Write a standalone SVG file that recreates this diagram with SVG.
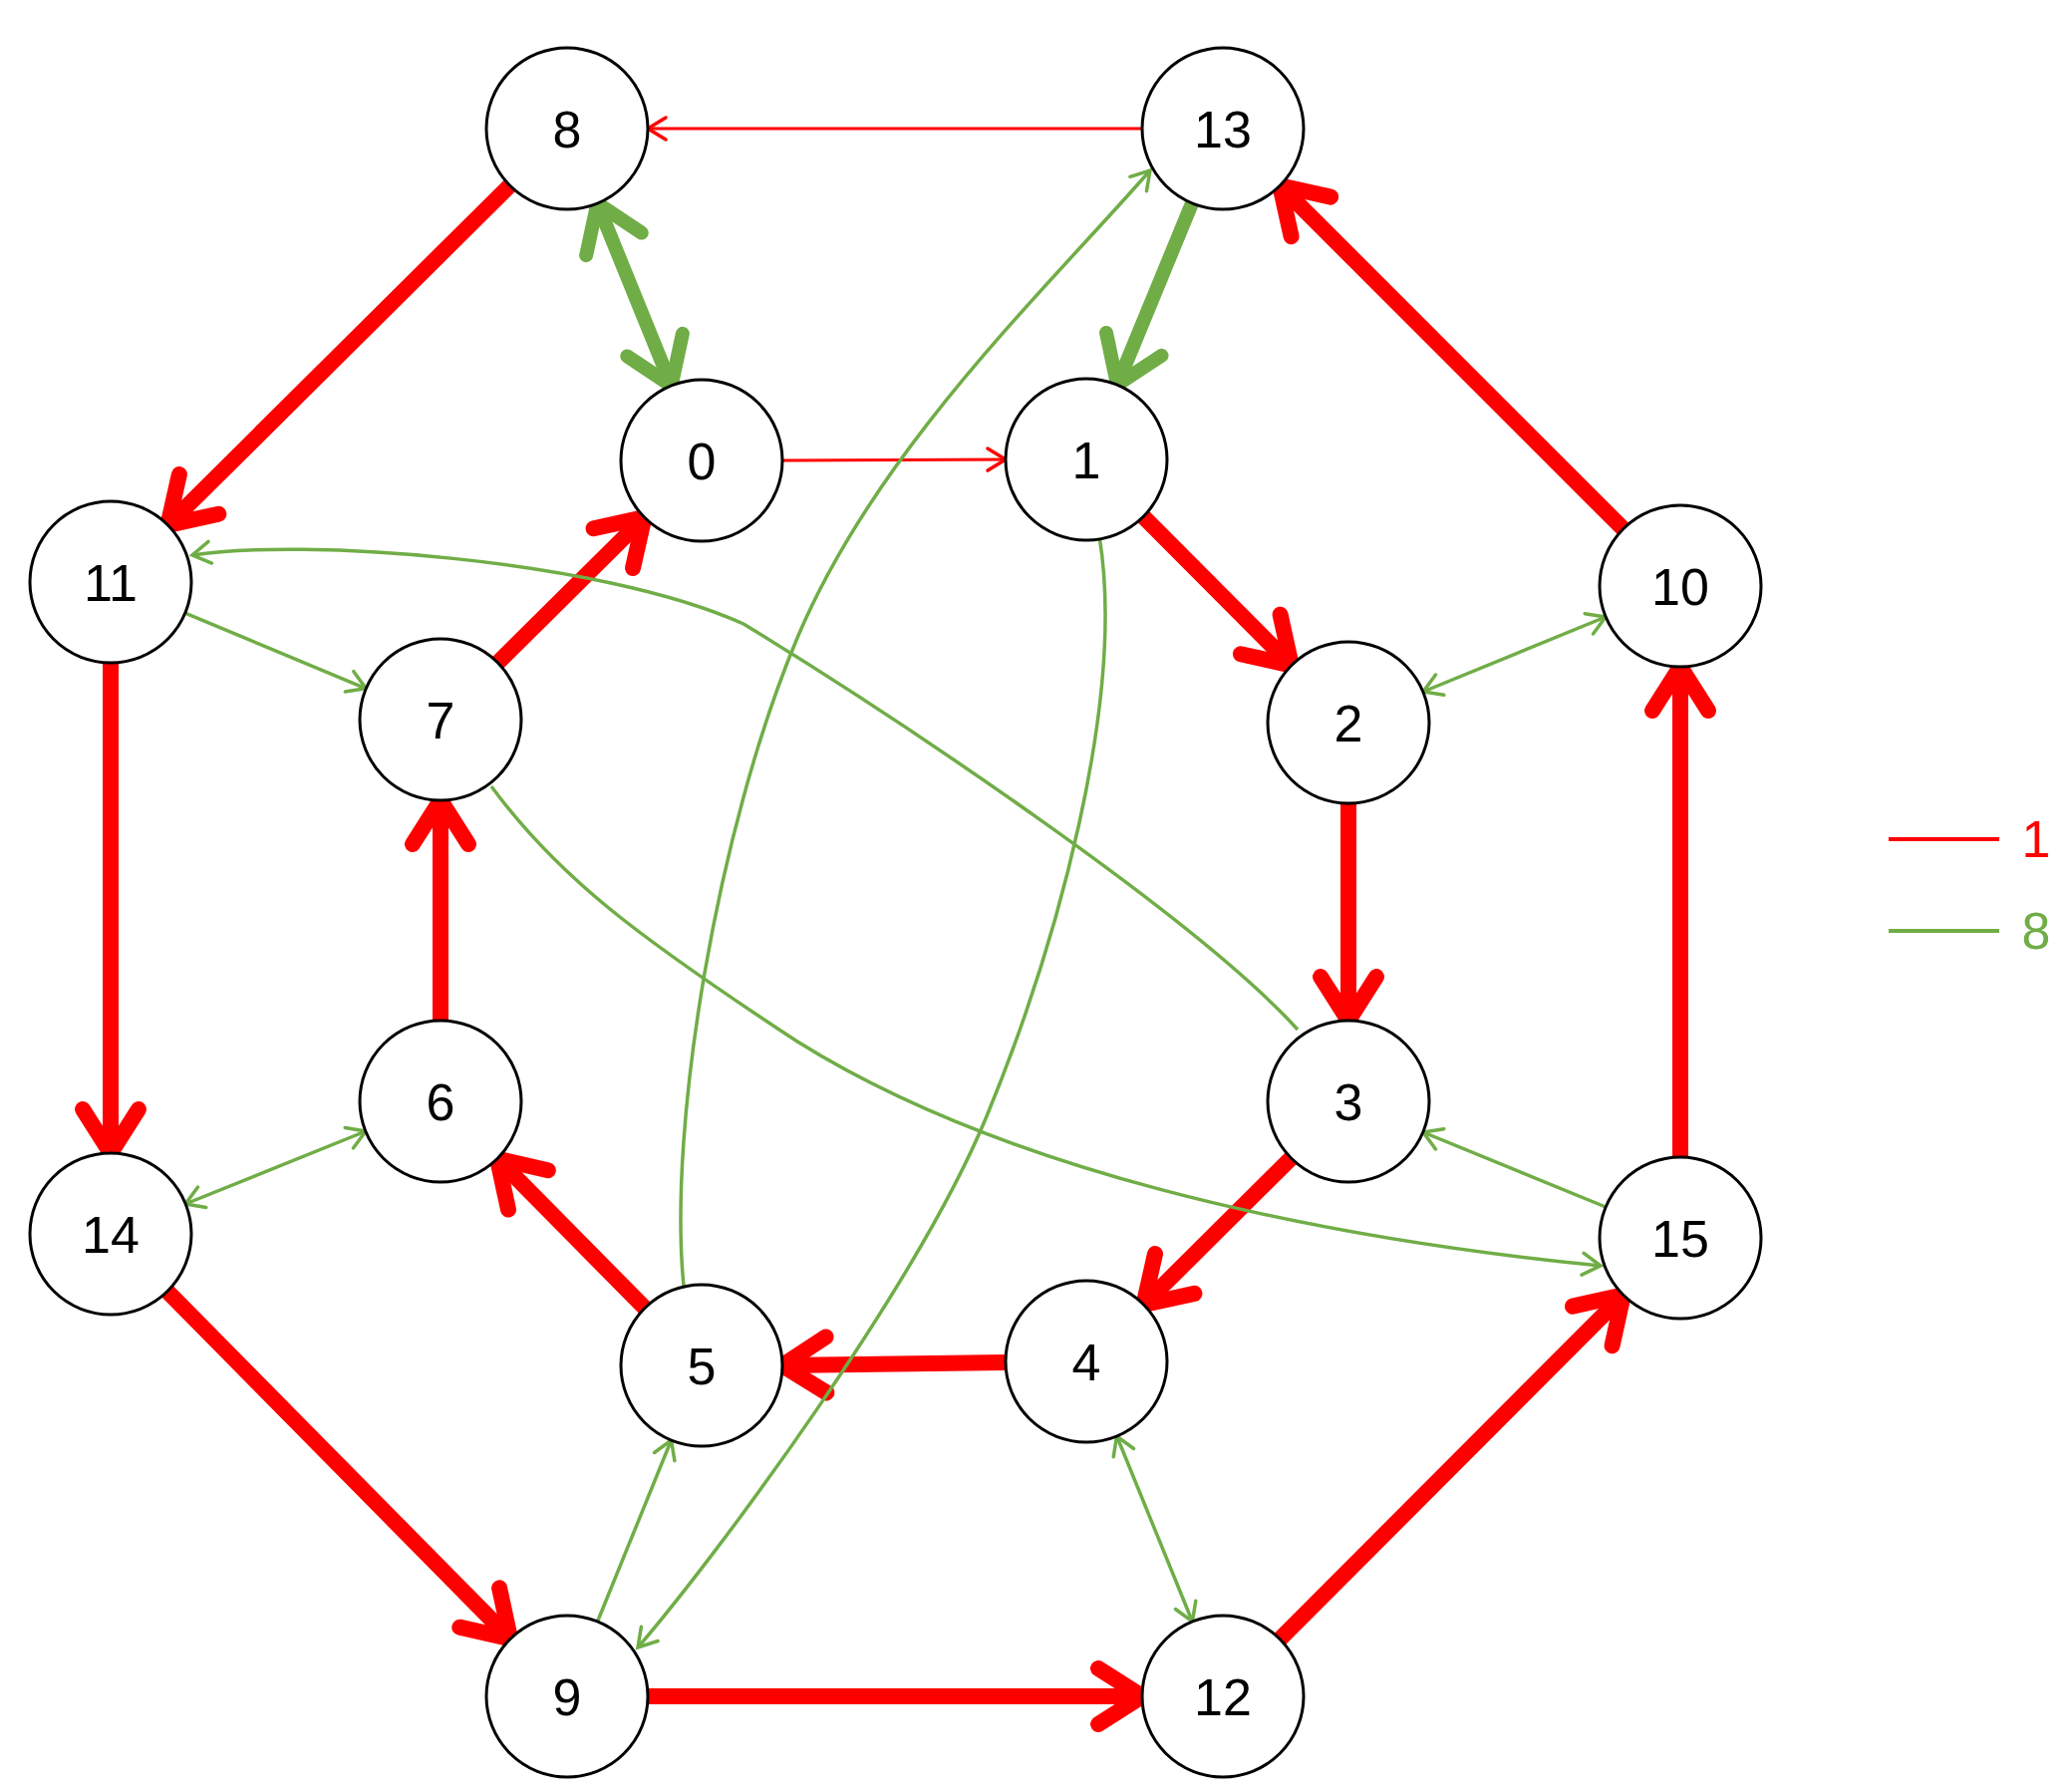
<svg xmlns="http://www.w3.org/2000/svg" width="2079" height="1797" viewBox="0 0 2079 1797">
<style>
.n circle{fill:#fff;stroke:#000;stroke-width:3}
.n text,.lg{font-family:"Liberation Sans",Arial,sans-serif;font-size:52px;text-anchor:middle}
.rt{stroke:#f00;stroke-width:16;fill:none;stroke-linecap:round}
.rn{stroke:#f00;stroke-width:3;fill:none}
.gt{stroke:#70AD47;stroke-width:14;fill:none;stroke-linecap:round}
.gn{stroke:#70AD47;stroke-width:3.5;fill:none}
</style>
<defs>
<marker id="mrt" markerUnits="userSpaceOnUse" orient="auto" overflow="visible" markerWidth="1" markerHeight="1"><path d="M-44,-28 L0,0 L-44,28" fill="none" stroke="#f00" stroke-width="16" stroke-linecap="round" stroke-linejoin="miter"/></marker>
<marker id="mrn" markerUnits="userSpaceOnUse" orient="auto" overflow="visible" markerWidth="1" markerHeight="1"><path d="M-18,-11 L0,0 L-18,11" fill="none" stroke="#f00" stroke-width="3.5" stroke-linecap="round"/></marker>
<marker id="mgt" markerUnits="userSpaceOnUse" orient="auto" overflow="visible" markerWidth="1" markerHeight="1"><path d="M-44,-30 L0,0 L-44,30" fill="none" stroke="#70AD47" stroke-width="14" stroke-linecap="round"/></marker>
<marker id="mgts" markerUnits="userSpaceOnUse" orient="auto-start-reverse" overflow="visible" markerWidth="1" markerHeight="1"><path d="M-44,-30 L0,0 L-44,30" fill="none" stroke="#70AD47" stroke-width="14" stroke-linecap="round"/></marker>
<marker id="mgn" markerUnits="userSpaceOnUse" orient="auto" overflow="visible" markerWidth="1" markerHeight="1"><path d="M-18,-11 L0,0 L-18,11" fill="none" stroke="#70AD47" stroke-width="3.5" stroke-linecap="round"/></marker>
<marker id="mgns" markerUnits="userSpaceOnUse" orient="auto-start-reverse" overflow="visible" markerWidth="1" markerHeight="1"><path d="M-18,-11 L0,0 L-18,11" fill="none" stroke="#70AD47" stroke-width="3.5" stroke-linecap="round"/></marker>
</defs>
<g id="connectors">
<path class="rt" marker-end="url(#mrt)" d="M511.6,186.1 L168.4,526.9"/>
<path class="rt" marker-end="url(#mrt)" d="M111,665 L111,1157"/>
<path class="rt" marker-end="url(#mrt)" d="M167.9,1295.7 L512.1,1644.3"/>
<path class="rt" marker-end="url(#mrt)" d="M650,1702 L1146,1702"/>
<path class="rt" marker-end="url(#mrt)" d="M1284.2,1644.7 L1628.8,1299.3"/>
<path class="rt" marker-end="url(#mrt)" d="M1686,1161 L1686,669"/>
<path class="rt" marker-end="url(#mrt)" d="M1628.7,530.7 L1284.3,186.3"/>
<path class="rt" marker-end="url(#mrt)" d="M1147.2,518.4 L1295.8,667.6"/>
<path class="rt" marker-end="url(#mrt)" d="M1353,806 L1353,1024"/>
<path class="rt" marker-end="url(#mrt)" d="M1295.5,1162 L1147.5,1309"/>
<path class="rt" marker-end="url(#mrt)" d="M1009,1367 L785,1370"/>
<path class="rt" marker-end="url(#mrt)" d="M647,1312.4 L499,1162.6"/>
<path class="rt" marker-end="url(#mrt)" d="M442,1024 L442,803"/>
<path class="rt" marker-end="url(#mrt)" d="M499.5,664.9 L646.5,519.1"/>
<path class="rn" marker-end="url(#mrn)" d="M1146,129 L650,129"/>
<path class="rn" marker-end="url(#mrn)" d="M785,462 L1009,461"/>
<path class="gt" marker-start="url(#mgts)" marker-end="url(#mgt)" d="M599.4,204.1 L673.6,386.9"/>
<path class="gt" marker-end="url(#mgt)" d="M1196,204 L1121,386"/>
<path class="gn" marker-end="url(#mgn)" d="M185.8,615.2 L367.2,690.8"/>
<path class="gn" marker-start="url(#mgns)" marker-end="url(#mgn)" d="M1611,619 L1428,694"/>
<path class="gn" marker-start="url(#mgns)" marker-end="url(#mgn)" d="M186,1208 L367,1135"/>
<path class="gn" marker-end="url(#mgn)" d="M1611,1211 L1428,1136"/>
<path class="gn" marker-end="url(#mgn)" d="M599.5,1627 L673.5,1445"/>
<path class="gn" marker-start="url(#mgns)" marker-end="url(#mgn)" d="M1120.6,1441 L1196.4,1627"/>
<path class="gn" marker-end="url(#mgn)" d="M686,1290 C670,1130 720,830 800,640 S1050,290 1154,171"/>
<path class="gn" marker-end="url(#mgn)" d="M1103,538 C1130,700 1060,950 990,1120 S720,1560 640,1653"/>
<path class="gn" marker-end="url(#mgn)" d="M1302,1033 C1200,920 900,720 746,626 C600,560 300,540 193,557"/>
<path class="gn" marker-end="url(#mgn)" d="M493,789 C560,880 640,940 800,1045 C1000,1170 1300,1240 1606,1270"/>
</g>
<g id="n8" class="n"><circle cx="569" cy="129" r="81"/><text x="569" y="148">8</text></g>
<g id="n13" class="n"><circle cx="1227" cy="129" r="81"/><text x="1227" y="148">13</text></g>
<g id="n0" class="n"><circle cx="704" cy="462" r="81"/><text x="704" y="481">0</text></g>
<g id="n1" class="n"><circle cx="1090" cy="461" r="81"/><text x="1090" y="480">1</text></g>
<g id="n11" class="n"><circle cx="111" cy="584" r="81"/><text x="111" y="603">11</text></g>
<g id="n10" class="n"><circle cx="1686" cy="588" r="81"/><text x="1686" y="607">10</text></g>
<g id="n7" class="n"><circle cx="442" cy="722" r="81"/><text x="442" y="741">7</text></g>
<g id="n2" class="n"><circle cx="1353" cy="725" r="81"/><text x="1353" y="744">2</text></g>
<g id="n6" class="n"><circle cx="442" cy="1105" r="81"/><text x="442" y="1124">6</text></g>
<g id="n3" class="n"><circle cx="1353" cy="1105" r="81"/><text x="1353" y="1124">3</text></g>
<g id="n14" class="n"><circle cx="111" cy="1238" r="81"/><text x="111" y="1257">14</text></g>
<g id="n15" class="n"><circle cx="1686" cy="1242" r="81"/><text x="1686" y="1261">15</text></g>
<g id="n5" class="n"><circle cx="704" cy="1370" r="81"/><text x="704" y="1389">5</text></g>
<g id="n4" class="n"><circle cx="1090" cy="1366" r="81"/><text x="1090" y="1385">4</text></g>
<g id="n9" class="n"><circle cx="569" cy="1702" r="81"/><text x="569" y="1721">9</text></g>
<g id="n12" class="n"><circle cx="1227" cy="1702" r="81"/><text x="1227" y="1721">12</text></g>
<g id="legend">
<line x1="1895" y1="842" x2="2006" y2="842" stroke="#f00" stroke-width="4"/>
<text class="lg" x="2043" y="860" fill="#f00">1</text>
<line x1="1895" y1="934" x2="2006" y2="934" stroke="#70AD47" stroke-width="4"/>
<text class="lg" x="2043" y="952" fill="#70AD47">8</text>
</g>
</svg>
